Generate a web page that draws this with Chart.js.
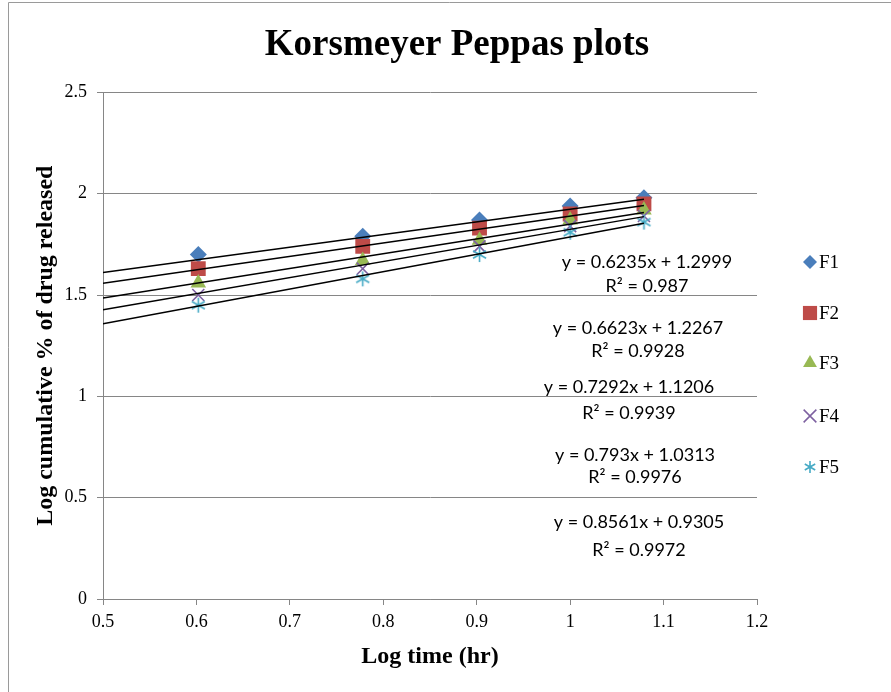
<!DOCTYPE html>
<html>
<head>
<meta charset="utf-8">
<script src="https://cdn.jsdelivr.net/npm/chart.js@4/dist/chart.umd.min.js"></script>
<style>
  body { margin: 0; background: #fff; }
  #wrap { position: relative; width: 891px; height: 692px; }
</style>
</head>
<body>
<div id="wrap"><canvas id="kpChart"></canvas></div>
<script>
// valores
const logTime = [0.602, 0.778, 0.903, 1.0, 1.079];
const seriesNames = ['F1', 'F2', 'F3', 'F4', 'F5'];
const f1 = [1.70, 1.79, 1.87, 1.94, 1.98];
const f2 = [1.63, 1.74, 1.83, 1.90, 1.95];
const f3 = [1.56, 1.67, 1.77, 1.87, 1.92];
const f4 = [1.50, 1.63, 1.74, 1.84, 1.89];
const f5 = [1.45, 1.58, 1.70, 1.81, 1.86];
const slopes = [0.6235, 0.6623, 0.7292, 0.793, 0.8561];
const intercepts = [1.2999, 1.2267, 1.1206, 1.0313, 0.9305];
const rSquared = ['0.987', '0.9928', '0.9939', '0.9976', '0.9972'];
const trendStart = 0.5;

const allSeries = [f1, f2, f3, f4, f5];
const colors = ['#4A7EBB', '#BE4B48', '#98B954', '#7D60A0', '#46AAC5'];

// asterisco estilo Excel (X + traço vertical)
function makeStar(size, color) {
    const c = document.createElement('canvas');
    c.width = size; c.height = size;
    const g = c.getContext('2d');
    g.strokeStyle = color;
    g.lineWidth = 1.6;
    const m = size / 2, r = size / 2 - 1;
    g.beginPath();
    g.moveTo(m, m - r); g.lineTo(m, m + r);
    g.moveTo(m - r * 0.87, m - r * 0.5); g.lineTo(m + r * 0.87, m + r * 0.5);
    g.moveTo(m - r * 0.87, m + r * 0.5); g.lineTo(m + r * 0.87, m - r * 0.5);
    g.stroke();
    return c;
}

const pointStyles = ['rectRot', 'rect', 'triangle', 'crossRot', makeStar(17, colors[4])];
const pointSizes = [8.5, 10.5, 9, 8.5, 8.5];
const legendStyles = ['rectRot', 'rect', 'triangle', 'crossRot', makeStar(14, colors[4])];
const legendSizes = [7, 10, 8, 9, 7];

// posições das equações (px)
const eqPos = [[647, 262, 286], [638, 328, 351], [629, 387, 413], [635, 455, 477], [639, 522, 550]];
const legendY = [262, 313, 363, 416, 467];

const datasets = [];
allSeries.forEach((s, i) => {
    datasets.push({
        label: seriesNames[i],
        data: logTime.map((x, j) => ({ x: x, y: s[j] })),
        pointStyle: pointStyles[i],
        pointRadius: pointSizes[i],
        pointHoverRadius: pointSizes[i],
        backgroundColor: colors[i],
        borderColor: colors[i],
        borderWidth: i === 3 ? 1.6 : 0,
        showLine: false,
        order: 10 - i
    });
});
slopes.forEach((m, i) => {
    const xEnd = logTime[logTime.length - 1];
    datasets.push({
        label: 'trend' + (i + 1),
        data: [{ x: trendStart, y: m * trendStart + intercepts[i] }, { x: xEnd, y: m * xEnd + intercepts[i] }],
        showLine: true,
        borderColor: '#000',
        borderWidth: 1.5,
        pointRadius: 0,
        order: 0
    });
});

const extras = {
    id: 'extras',
    beforeDraw(chart) {
        const ctx = chart.ctx;
        ctx.save();
        ctx.strokeStyle = '#9a9a9a';
        ctx.lineWidth = 1;
        ctx.beginPath();
        ctx.moveTo(8.5, 692); ctx.lineTo(8.5, 2.5); ctx.lineTo(891, 2.5);
        ctx.stroke();
        ctx.restore();
    },
    afterDraw(chart) {
        const ctx = chart.ctx;
        ctx.save();
        // equações das linhas de tendência
        ctx.fillStyle = '#000';
        ctx.font = '18px Lato';
        ctx.textAlign = 'center';
        ctx.textBaseline = 'middle';
        slopes.forEach((m, i) => {
            const p = eqPos[i];
            ctx.fillText('y = ' + m + 'x + ' + intercepts[i], p[0], p[1]);
            ctx.fillText('R² = ' + rSquared[i], p[0], p[2]);
        });
        // legenda
        ctx.textAlign = 'left';
        ctx.font = '19px "Liberation Serif"';
        seriesNames.forEach((name, i) => {
            ctx.fillStyle = colors[i];
            ctx.strokeStyle = colors[i];
            ctx.lineWidth = 1.5;
            Chart.helpers.drawPoint(ctx, { pointStyle: legendStyles[i], radius: legendSizes[i], rotation: 0, borderWidth: i === 3 ? 1.5 : 0 }, 810, legendY[i]);
            ctx.fillStyle = '#000';
            ctx.fillText(name, 819, legendY[i] + 1);
        });
        ctx.restore();
    }
};

const gridColor = '#868686';
const tickFont = { family: 'Liberation Serif', size: 18 };
const axisTitleFont = { family: 'Liberation Serif', size: 24, weight: 'bold' };

new Chart(document.getElementById('kpChart'), {
    type: 'scatter',
    data: { datasets: datasets },
    options: {
        responsive: true,
        maintainAspectRatio: false,
        animation: false,
        layout: { padding: { left: 23, right: 0, top: 0, bottom: 0 } },
        plugins: {
            legend: { display: false },
            tooltip: { enabled: false },
            title: {
                display: true,
                text: 'Korsmeyer Peppas plots',
                color: '#000',
                font: { family: 'Liberation Serif', size: 37, weight: 'bold' },
                padding: { top: 23, bottom: 25 }
            }
        },
        scales: {
            x: {
                type: 'linear',
                min: 0.5,
                max: 1.2,
                afterFit: s => { s.height = 93; },
                ticks: {
                    stepSize: 0.1,
                    color: '#000',
                    font: tickFont,
                    padding: 6,
                    maxRotation: 0,
                    callback: v => String(Number(v.toFixed(2)))
                },
                grid: { drawOnChartArea: false, drawTicks: true, tickLength: 6, color: gridColor },
                border: { color: gridColor },
                title: { display: true, text: 'Log time (hr)', color: '#000', font: axisTitleFont, padding: { top: 0, bottom: 21 } }
            },
            y: {
                min: 0,
                max: 2.5,
                afterFit: s => { s.width = 80; },
                ticks: {
                    stepSize: 0.5,
                    color: '#000',
                    font: tickFont,
                    padding: 10,
                    callback: v => String(Number(v.toFixed(2)))
                },
                grid: { color: gridColor, tickLength: 6 },
                border: { color: gridColor },
                title: { display: true, text: 'Log cumulative % of drug released', color: '#000', font: axisTitleFont, padding: { top: 8, bottom: 0 } }
            },
            // espaço vazio à direita para a legenda
            legendSpace: {
                type: 'linear',
                position: 'right',
                min: 0,
                max: 1,
                afterFit: s => { s.width = 134; },
                ticks: { display: false },
                grid: { display: false },
                border: { display: false }
            }
        }
    },
    plugins: [extras]
});
</script>
</body>
</html>
